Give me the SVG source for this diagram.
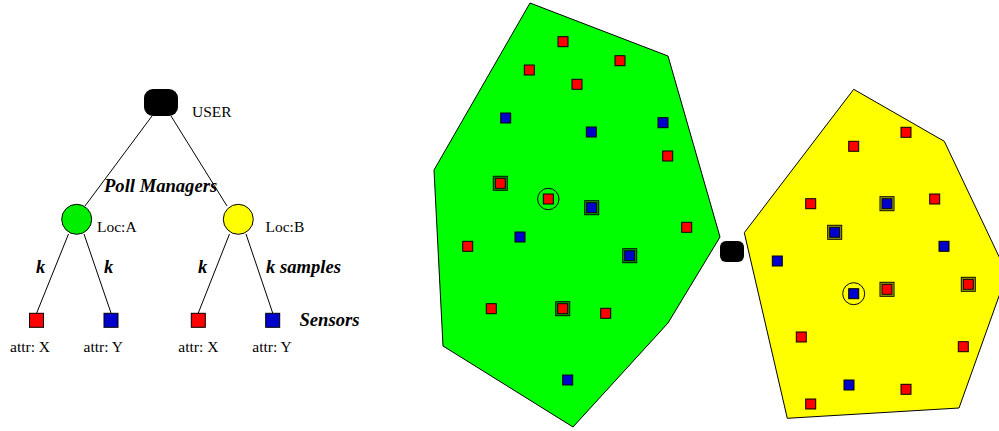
<svg xmlns="http://www.w3.org/2000/svg" width="999" height="431" viewBox="0 0 999 431">
<style>
.t{font-family:"Liberation Serif","Times New Roman",serif;font-size:15.5px;fill:#000}
.b{font-family:"Liberation Serif","Times New Roman",serif;font-size:18.6px;font-weight:bold;font-style:italic;fill:#000}
.ln{stroke:#000;stroke-width:1;fill:none}
.r{fill:#ff0000;stroke:#000;stroke-width:1}
.u{fill:#0000cc;stroke:#000;stroke-width:1}
.f{fill:none;stroke:#000;stroke-width:1}
.f2{fill:none;stroke:#000;stroke-width:1;stroke-opacity:0.45}
</style>
<defs>
<rect id="sq" x="-5" y="-5" width="10" height="10"/>
<g id="fr"><rect x="-7" y="-7" width="14" height="14" class="f"/><rect x="-6" y="-6" width="12" height="12" class="f2"/></g>
</defs>
<rect width="999" height="431" fill="#fff"/>
<g id="connectors">
<line class="ln" x1="152" y1="116" x2="85" y2="206"/>
<line class="ln" x1="171" y1="116" x2="227" y2="206"/>
<line class="ln" x1="68.5" y1="234" x2="36.7" y2="313"/>
<line class="ln" x1="84" y1="234" x2="111" y2="313"/>
<line class="ln" x1="229.5" y1="234" x2="198.3" y2="313"/>
<line class="ln" x1="246" y1="234" x2="272.7" y2="313"/>
</g>
<g id="user"><rect x="144" y="89" width="34" height="27" rx="9" ry="9" fill="#000"/><text class="t" x="192" y="117">USER</text></g>
<g id="locA"><circle cx="76.7" cy="219.3" r="15" fill="#00ee00" stroke="#000"/><text class="t" x="97" y="232">Loc:A</text></g>
<g id="locB"><circle cx="238.3" cy="219.3" r="15" fill="#ffff00" stroke="#000"/><text class="t" x="265.5" y="232">Loc:B</text></g>
<g id="s1"><rect x="29.5" y="313.3" width="14" height="14" class="r"/><text class="t" x="10" y="352">attr: X</text></g>
<g id="s2"><rect x="104" y="313.3" width="14" height="14" class="u"/><text class="t" x="83.5" y="352">attr: Y</text></g>
<g id="s3"><rect x="191.3" y="313.3" width="14" height="14" class="r"/><text class="t" x="178.3" y="352">attr: X</text></g>
<g id="s4"><rect x="265.7" y="313.3" width="14" height="14" class="u"/><text class="t" x="252.3" y="352">attr: Y</text></g>
<g id="labels">
<text class="b" x="104" y="192">Poll Managers</text>
<text class="b" x="36" y="273">k</text>
<text class="b" x="104" y="273">k</text>
<text class="b" x="198" y="273">k</text>
<text class="b" x="266" y="273">k samples</text>
<text class="b" x="299.5" y="326">Sensors</text>
</g>
<g id="regionA">
<polygon points="530,3 668,56 720,237 668,323 573,427 443,346 434,170" fill="#00ff00" stroke="#000" stroke-width="1"/>
<use href="#sq" class="r" x="563" y="41.7"/>
<use href="#sq" class="r" x="620" y="60.7"/>
<use href="#sq" class="r" x="529.3" y="70"/>
<use href="#sq" class="r" x="577" y="84.3"/>
<use href="#sq" class="u" x="505.7" y="118"/>
<use href="#sq" class="u" x="591.3" y="132"/>
<use href="#sq" class="u" x="663" y="122.7"/>
<use href="#sq" class="r" x="667.7" y="156"/>
<use href="#fr" x="500.3" y="183.3"/><use href="#sq" class="r" x="500.3" y="183.3"/>
<circle cx="548.3" cy="199" r="10.7" class="f"/><use href="#sq" class="r" x="548.3" y="199"/>
<use href="#fr" x="591.7" y="207.7"/><use href="#sq" class="u" x="591.7" y="207.7"/>
<use href="#sq" class="r" x="686.7" y="227.3"/>
<use href="#sq" class="u" x="520" y="237"/>
<use href="#sq" class="r" x="467.7" y="246.3"/>
<use href="#fr" x="629.7" y="255.7"/><use href="#sq" class="u" x="629.7" y="255.7"/>
<use href="#sq" class="r" x="491.3" y="308.7"/>
<use href="#fr" x="562.7" y="308.7"/><use href="#sq" class="r" x="562.7" y="308.7"/>
<use href="#sq" class="r" x="605.7" y="313.3"/>
<use href="#sq" class="u" x="567.7" y="380"/>
</g>
<g id="user2"><rect x="720" y="241" width="24" height="21" rx="6" ry="6" fill="#000"/></g>
<g id="regionB">
<polygon points="853.7,89.3 944.3,141.3 1003,265 1003,285 959,408 787.3,418.3 744.3,232.7" fill="#ffff00" stroke="#000" stroke-width="1"/>
<use href="#sq" class="r" x="906" y="132.3"/>
<use href="#sq" class="r" x="853.7" y="146.3"/>
<use href="#sq" class="r" x="810.7" y="203.7"/>
<use href="#fr" x="887" y="203.7"/><use href="#sq" class="u" x="887" y="203.7"/>
<use href="#sq" class="r" x="934.7" y="199"/>
<use href="#fr" x="834.7" y="232.3"/><use href="#sq" class="u" x="834.7" y="232.3"/>
<use href="#sq" class="u" x="944" y="246.3"/>
<use href="#sq" class="u" x="777.3" y="261"/>
<circle cx="853.7" cy="293.7" r="11" class="f"/><use href="#sq" class="u" x="853.7" y="293.7"/>
<use href="#fr" x="887" y="289.3"/><use href="#sq" class="r" x="887" y="289.3"/>
<use href="#fr" x="968.3" y="284.3"/><use href="#sq" class="r" x="968.3" y="284.3"/>
<use href="#sq" class="r" x="801.3" y="337"/>
<use href="#sq" class="r" x="963.3" y="346.7"/>
<use href="#sq" class="u" x="849" y="385"/>
<use href="#sq" class="r" x="906" y="389.3"/>
<use href="#sq" class="r" x="810.7" y="404"/>
</g>
</svg>
